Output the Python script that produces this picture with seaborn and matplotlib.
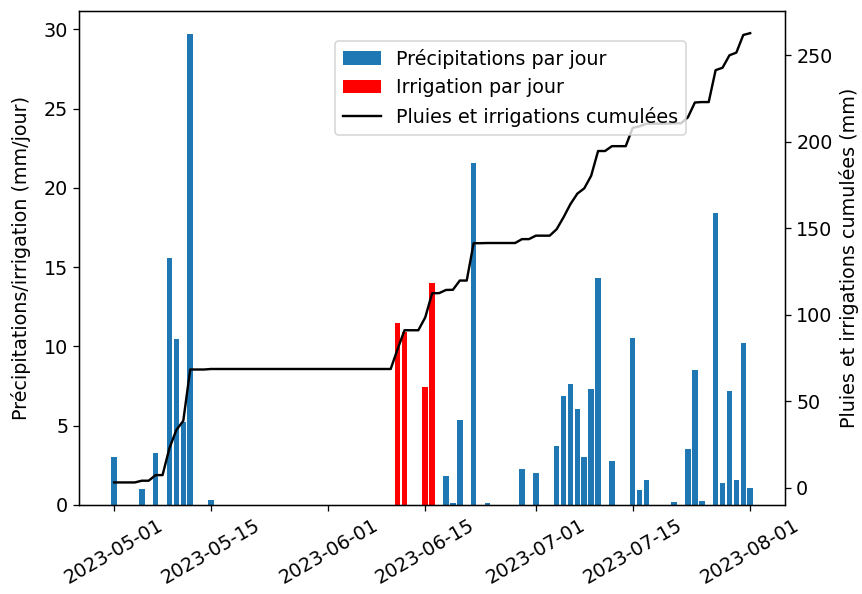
# Pluies et irrigations - mai a juillet 2023
import pandas as pd
import matplotlib
matplotlib.use("Agg")
import matplotlib.pyplot as plt
import seaborn as sns

plt.rcParams["font.size"] = 12

# jours de pluie (mm/jour)
rain_dates = ["2023-05-01", "2023-05-05", "2023-05-07", "2023-05-09", "2023-05-10",
              "2023-05-11", "2023-05-12", "2023-05-15",
              "2023-06-18", "2023-06-19", "2023-06-20", "2023-06-22", "2023-06-24",
              "2023-06-29", "2023-07-01", "2023-07-04", "2023-07-05", "2023-07-06",
              "2023-07-07", "2023-07-08", "2023-07-09", "2023-07-10", "2023-07-12",
              "2023-07-15", "2023-07-16", "2023-07-17", "2023-07-21", "2023-07-23",
              "2023-07-24", "2023-07-25", "2023-07-27", "2023-07-28", "2023-07-29",
              "2023-07-30", "2023-07-31", "2023-08-01"]
rain_mm = [3.05, 1.0, 3.25, 15.6, 10.5,
           5.25, 29.7, 0.3,
           1.85, 0.1, 5.35, 21.6, 0.1,
           2.25, 2.0, 3.7, 6.9, 7.65,
           6.05, 3.05, 7.3, 14.3, 2.8,
           10.55, 0.95, 1.55, 0.2, 3.5,
           8.5, 0.25, 18.45, 1.4, 7.2,
           1.55, 10.2, 1.05]

# jours d'irrigation (mm/jour)
irrig_dates = ["2023-06-11", "2023-06-12", "2023-06-15", "2023-06-16"]
irrig_mm = [11.5, 10.9, 7.45, 14.0]

start = "2023-05-01"
end = "2023-08-01"

# tableau journalier
days = pd.date_range(start, end, freq="D")
rain = pd.Series(rain_mm, index=pd.to_datetime(rain_dates)).reindex(days, fill_value=0)
irrig = pd.Series(irrig_mm, index=pd.to_datetime(irrig_dates)).reindex(days, fill_value=0)

data = pd.DataFrame({"date": days, "pluie": rain.values, "irrigation": irrig.values})
data["cumul"] = (data["pluie"] + data["irrigation"]).cumsum()

# figure
fig, ax = plt.subplots(figsize=(862 / 115, 594 / 115), dpi=115)
fig.subplots_adjust(left=0.092, right=0.9107, bottom=0.150, top=0.982)

ax.bar(data["date"], data["pluie"], color="#1f77b4", label="Précipitations par jour")
ax.bar(data["date"], data["irrigation"], color="red", label="Irrigation par jour")
ax.set_ylabel("Précipitations/irrigation (mm/jour)", labelpad=8)
ax.tick_params(axis="x", rotation=30)

# cumul sur l'axe de droite
ax2 = ax.twinx()
sns.lineplot(data=data, x="date", y="cumul", ax=ax2, color="black",
             label="Pluies et irrigations cumulées")
ax2.set_xlabel("")
ax2.set_ylabel("Pluies et irrigations cumulées (mm)")

# legende commune
h1, l1 = ax.get_legend_handles_labels()
h2, l2 = ax2.get_legend_handles_labels()
ax2.legend(h1 + h2, l1 + l2, loc="upper right", bbox_to_anchor=(0.8735, 0.958))

fig.savefig("out.png", dpi=115)
